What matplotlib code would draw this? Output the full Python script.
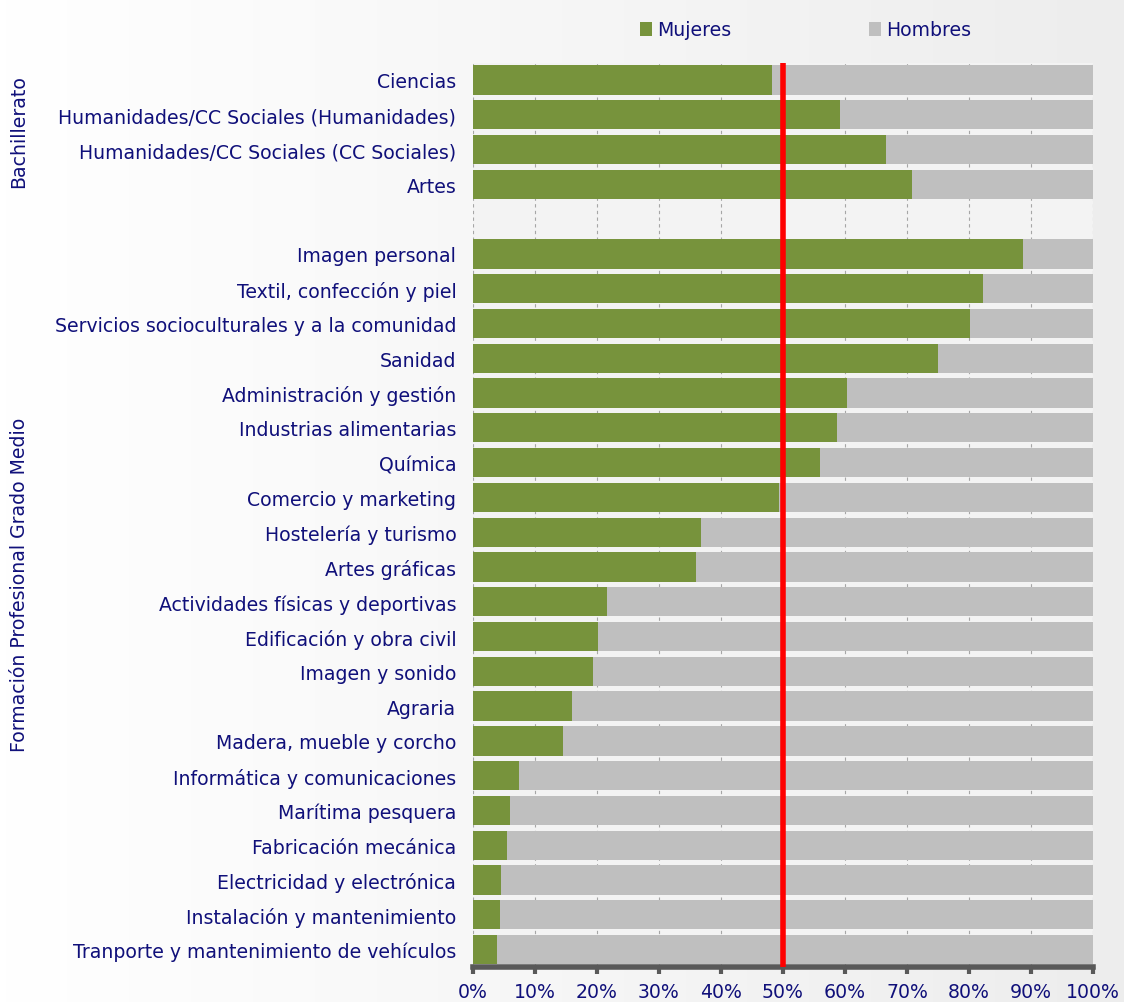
import numpy as np
import matplotlib
matplotlib.use('Agg')
import matplotlib.pyplot as plt

# data (share of women, %)
bach_labels = ['Ciencias', 'Humanidades/CC Sociales (Humanidades)',
               'Humanidades/CC Sociales (CC Sociales)', 'Artes']
bach_mujeres = [48.2, 59.2, 66.6, 70.8]

fp_labels = ['Imagen personal', 'Textil, confección y piel',
             'Servicios socioculturales y a la comunidad', 'Sanidad',
             'Administración y gestión', 'Industrias alimentarias', 'Química',
             'Comercio y marketing', 'Hostelería y turismo', 'Artes gráficas',
             'Actividades físicas y deportivas', 'Edificación y obra civil',
             'Imagen y sonido', 'Agraria', 'Madera, mueble y corcho',
             'Informática y comunicaciones', 'Marítima pesquera',
             'Fabricación mecánica', 'Electricidad y electrónica',
             'Instalación y mantenimiento',
             'Tranporte y mantenimiento de vehículos']
fp_mujeres = [88.7, 82.3, 80.2, 75.0, 60.3, 58.7, 56.0, 49.4, 36.8, 36.0,
              21.6, 20.2, 19.4, 16.0, 14.5, 7.4, 6.0, 5.5, 4.5, 4.4, 3.9]

group_labels = ['Bachillerato', 'Formación Profesional Grado Medio']
ticks = [0, 10, 20, 30, 40, 50, 60, 70, 80, 90, 100]

green = '#77933c'
grey = '#bfbfbf'
navy = '#10107a'
fs = 13.6

labels = bach_labels + [''] + fp_labels
mujeres = bach_mujeres + [np.nan] + fp_mujeres
n = len(labels)
y = np.arange(n)

fig = plt.figure(figsize=(11.24, 10.03), dpi=100)

# subtle background gradient
bg = fig.add_axes([0, 0, 1, 1], zorder=-10)
gx = np.linspace(0, 1, 200)
grad = np.tile(gx, (50, 1))
bg.imshow(grad, aspect='auto',
          cmap=matplotlib.colors.LinearSegmentedColormap.from_list('g', ['#ffffff', '#ededed']),
          extent=[0, 1, 0, 1], vmin=0, vmax=1)
bg.axis('off')

ax = fig.add_axes([0.4208, 0.0349, 0.5516, 0.9017])
ax.set_facecolor('#f3f3f3')

m = np.array(mujeres, dtype=float)
valid = ~np.isnan(m)
ax.barh(y[valid], m[valid], height=0.84, color=green, label='Mujeres', zorder=3)
ax.barh(y[valid], 100 - m[valid], left=m[valid], height=0.84, color=grey,
        label='Hombres', zorder=3)

ax.axvline(50, color='#ff0000', lw=4, zorder=5)

ax.set_xlim(0, 100)
ax.set_ylim(n - 0.5, -0.5)
ax.set_yticks(y)
ax.set_yticklabels(labels, fontsize=fs, color=navy)
ax.tick_params(axis='y', length=0, pad=12)
ax.set_xticks(ticks)
ax.set_xticklabels([f'{t}%' for t in ticks], fontsize=fs, color=navy)
ax.tick_params(axis='x', length=5, width=3, color='#595959', pad=6, direction='out')

ax.grid(axis='x', color='#a6a6a6', linestyle=(0, (3, 3)), lw=0.8, zorder=1)
for s in ['top', 'left', 'right']:
    ax.spines[s].set_visible(False)
ax.spines['bottom'].set_color('#595959')
ax.spines['bottom'].set_linewidth(4)

# group labels
fig.text(0.017, 1 - 132 / 1003, group_labels[0], rotation=90, ha='center', va='center',
         fontsize=fs, color=navy)
fig.text(0.017, 1 - 585 / 1003, group_labels[1], rotation=90, ha='center', va='center',
         fontsize=fs, color=navy)

leg = fig.legend(loc='center', bbox_to_anchor=(0.717, 1 - 31 / 1003), ncol=2, frameon=False,
                 fontsize=fs, handlelength=0.6, handleheight=0.8, handletextpad=0.3,
                 columnspacing=7.3)
for t in leg.get_texts():
    t.set_color(navy)

fig.savefig('out.png', dpi=100)
